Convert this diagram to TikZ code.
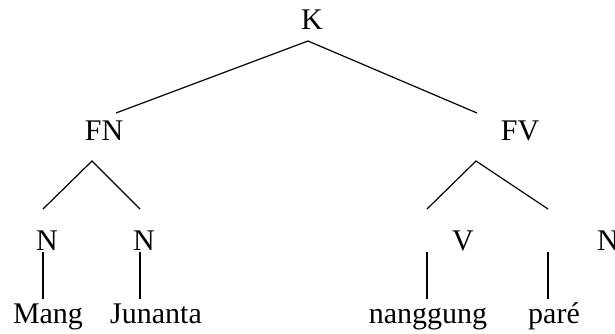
\documentclass[tikz,border=0pt]{standalone}
\usepackage{fontspec}
\setmainfont{Liberation Serif}
\usetikzlibrary{positioning}

\begin{document}
\begin{tikzpicture}[x=1pt,y=-1pt,line width=1.2pt]
	\tikzstyle{every node}=[inner sep=0pt,anchor=base,font=\fontsize{30}{36}\selectfont]
	\useasboundingbox (0,0) rectangle (615,333);
	\clip (0,0) rectangle (615,333);
	
	% labels
	\node (K)     at (312,29)  {K};
	\node (FN)    at (104,140) {FN};
	\node (FV)    at (520,140) {FV};
	\node (N_1)   at (47,250)  {N};
	\node (N_2)   at (144,250) {N};
	\node (V)     at (463,250) {V};
	\node (N_3)   at (608,250) {N};
	\node (w_1)   at (48,323)  {Mang};
	\node (w_2)   at (156,323) {Junanta};
	\node (w_3)   at (428,323) {nanggung};
	\node (w_4)   at (554,323) {paré};
	
	% branch points
	\coordinate (K_0)  at (308,41);
	\coordinate (K_l)  at (116,113);
	\coordinate (K_r)  at (477,113);
	\coordinate (FN_0) at (92,161);
	\coordinate (FN_l) at (43,209);
	\coordinate (FN_r) at (140,209);
	\coordinate (FV_0) at (476,161);
	\coordinate (FV_l) at (427,209);
	\coordinate (FV_r) at (548,209);
	
	\draw (K_l) -- (K_0) -- (K_r);
	\draw (FN_l) -- (FN_0) -- (FN_r);
	\draw (FV_l) -- (FV_0) -- (FV_r);
	
	\draw (43,252)  -- (43,299);
	\draw (140,252) -- (140,299);
	\draw (427,252) -- (427,299);
	\draw (548,252) -- (548,299);
	
\end{tikzpicture}
\end{document}
